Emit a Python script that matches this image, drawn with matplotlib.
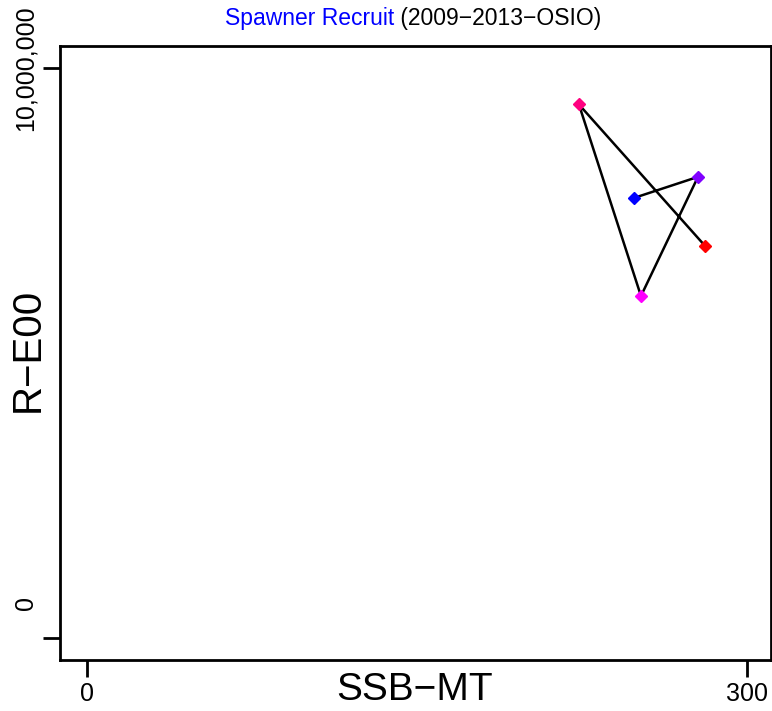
import numpy as np
import matplotlib
matplotlib.use('Agg')
import matplotlib.pyplot as plt
from matplotlib.transforms import ScaledTranslation

plt.rcParams['font.family'] = ['Liberation Sans', 'DejaVu Sans']

# spawner biomass (MT) and recruits, 2009-2013
years = [2009, 2010, 2011, 2012, 2013]
ssb = [248.6, 277.7, 251.8, 223.6, 280.9]
recruits = [7.72e6, 8.09e6, 6.00e6, 9.36e6, 6.88e6]
point_colors = ['#0000FF', '#8000FF', '#FF00FF', '#FF0080', '#FF0000']

x_ticks = [0, 300]
x_tick_labels = ['0', '300']
y_ticks = [0, 10000000]
y_tick_labels = ['0', '10,000,000']


def main():
    fig = plt.figure(figsize=(7.72, 7.11), dpi=100)
    ax = fig.add_axes([60 / 772, 51 / 711, 711 / 772, 614 / 711])

    ax.plot(ssb, recruits, color='black', lw=1.8, zorder=2)
    for x, y, c in zip(ssb, recruits, point_colors):
        ax.plot(x, y, marker='D', ms=6.5, color=c, mec=c, zorder=3)

    ax.set_xlim(-12.27, 310.9)
    ax.set_ylim(-3.86e5, 1.0386e7)

    for s in ax.spines.values():
        s.set_linewidth(2)

    ax.set_xticks(x_ticks)
    ax.set_xticklabels(x_tick_labels, fontsize=18)
    ax.set_yticks(y_ticks)
    ax.set_yticklabels(y_tick_labels, fontsize=18, rotation=90, va='center')
    ax.tick_params(axis='both', direction='out', length=12, width=2, pad=4)

    # R puts the "0" label a bit above its tick
    lab0 = ax.get_yticklabels()[0]
    lab0.set_transform(lab0.get_transform() + ScaledTranslation(0, 0.35, fig.dpi_scale_trans))

    ax.text(0.498, -0.049, 'SSB\u2212MT', transform=ax.transAxes,
            ha='center', va='center', fontsize=28)
    ax.text(-0.045, 0.505, 'R\u2212E00', transform=ax.transAxes,
            ha='center', va='center', fontsize=29, rotation=90)

    t1 = fig.text(225 / 772, 1 - 18 / 711, 'Spawner Recruit', color='#0000FF',
                  fontsize=16.5, ha='left', va='center')
    ax.annotate(' (2009\u22122013\u2212OSIO)', xy=(1, 0), xycoords=t1,
                va='bottom', ha='left', fontsize=16.5, color='black')

    fig.savefig('out.png', dpi=100)


if __name__ == "__main__":
    main()
